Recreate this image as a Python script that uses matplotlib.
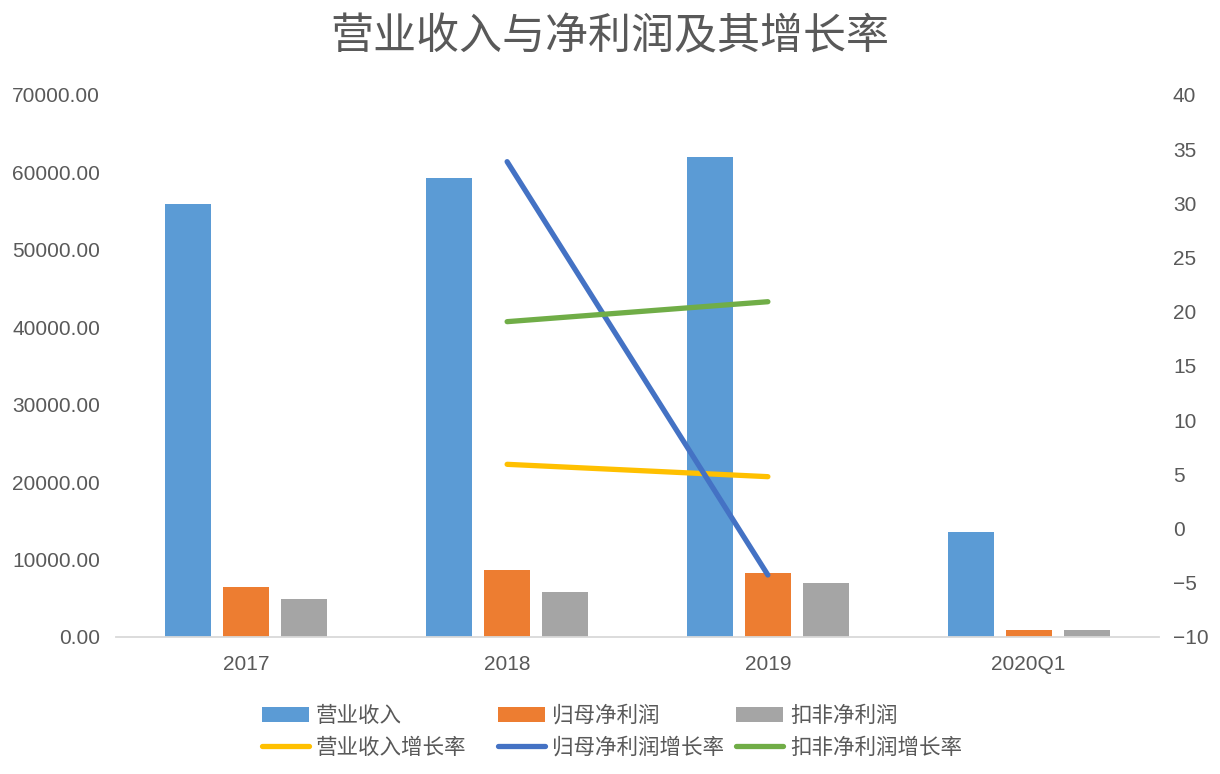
import matplotlib
matplotlib.use("Agg")
import matplotlib.pyplot as plt
from matplotlib.ticker import FuncFormatter

plt.rcParams["font.family"] = ["Liberation Sans", "Noto Sans CJK SC", "DejaVu Sans"]

# ---- data ----
categories = ["2017", "2018", "2019", "2020Q1"]
revenue = [55920, 59240, 62030, 13520]          # 营业收入
net_profit = [6460, 8650, 8230, 900]            # 归母净利润
net_profit_ded = [4910, 5810, 7010, 900]        # 扣非净利润

growth_years = ["2018", "2019"]
revenue_growth = [5.93, 4.79]                   # 营业收入增长率
net_profit_growth = [33.85, -4.28]              # 归母净利润增长率
ded_growth = [19.09, 20.93]                     # 扣非净利润增长率

bar_names = ["营业收入", "归母净利润", "扣非净利润"]
line_names = ["营业收入增长率", "归母净利润增长率", "扣非净利润增长率"]

BAR_C = ["#5B9BD5", "#ED7D31", "#A5A5A5"]
LINE_C = ["#FFC000", "#4472C4", "#70AD47"]
TXT = "#595959"

W, H = 1220, 774
fig = plt.figure(figsize=(W / 100, H / 100), dpi=100)
ax = fig.add_axes([116 / W, 1 - 637 / H, (1159 - 116) / W, (637 - 95) / H])

x = range(len(categories))
bw, step = 0.1765, 0.2225
bars = []
for i, vals in enumerate([revenue, net_profit, net_profit_ded]):
    b = ax.bar([j + (i - 1) * step for j in x], vals, bw, color=BAR_C[i], label=bar_names[i])
    bars.append(b)

ax.set_xlim(-0.5, 3.5)
ax.set_ylim(0, 70000)
ax.set_yticks(range(0, 70001, 10000))
ax.yaxis.set_major_formatter(FuncFormatter(lambda v, _: f"{v:.2f}"))
ax.set_xticks(list(x))
ax.set_xticklabels(categories)
ax.tick_params(axis="y", length=0, pad=11.5, labelsize=15, labelcolor=TXT)
ax.tick_params(axis="x", length=0, pad=13, labelsize=15, labelcolor=TXT)
for s in ("top", "left", "right"):
    ax.spines[s].set_visible(False)
ax.spines["bottom"].set_color("#D9D9D9")
ax.spines["bottom"].set_linewidth(1.3)

ax2 = ax.twinx()
gx = [categories.index(y) for y in growth_years]
lines = []
for i, vals in enumerate([revenue_growth, net_profit_growth, ded_growth]):
    (ln,) = ax2.plot(gx, vals, color=LINE_C[i], lw=3.8, solid_capstyle="round",
                     label=line_names[i])
    lines.append(ln)
ax2.set_ylim(-10, 40)
ax2.set_yticks(range(-10, 41, 5))
ax2.tick_params(axis="y", length=0, pad=10, labelsize=15, labelcolor=TXT)
for s in ax2.spines.values():
    s.set_visible(False)

fig.text(0.5, 1 - 38 / H, "营业收入与净利润及其增长率", ha="center", va="center",
         fontsize=31, color=TXT)

# legend: three columns, bar on top row, line below
for i, xpix in enumerate([262, 498, 736]):
    leg = fig.legend([bars[i], lines[i]], [bar_names[i], line_names[i]],
                     loc="upper left", bbox_to_anchor=(xpix / W, 1 - 706 / H),
                     frameon=False, fontsize=15.5, borderpad=0, borderaxespad=0,
                     handlelength=2.2, handletextpad=0.3, labelspacing=0.5,
                     labelcolor=TXT)

fig.savefig("out.png", dpi=100)
